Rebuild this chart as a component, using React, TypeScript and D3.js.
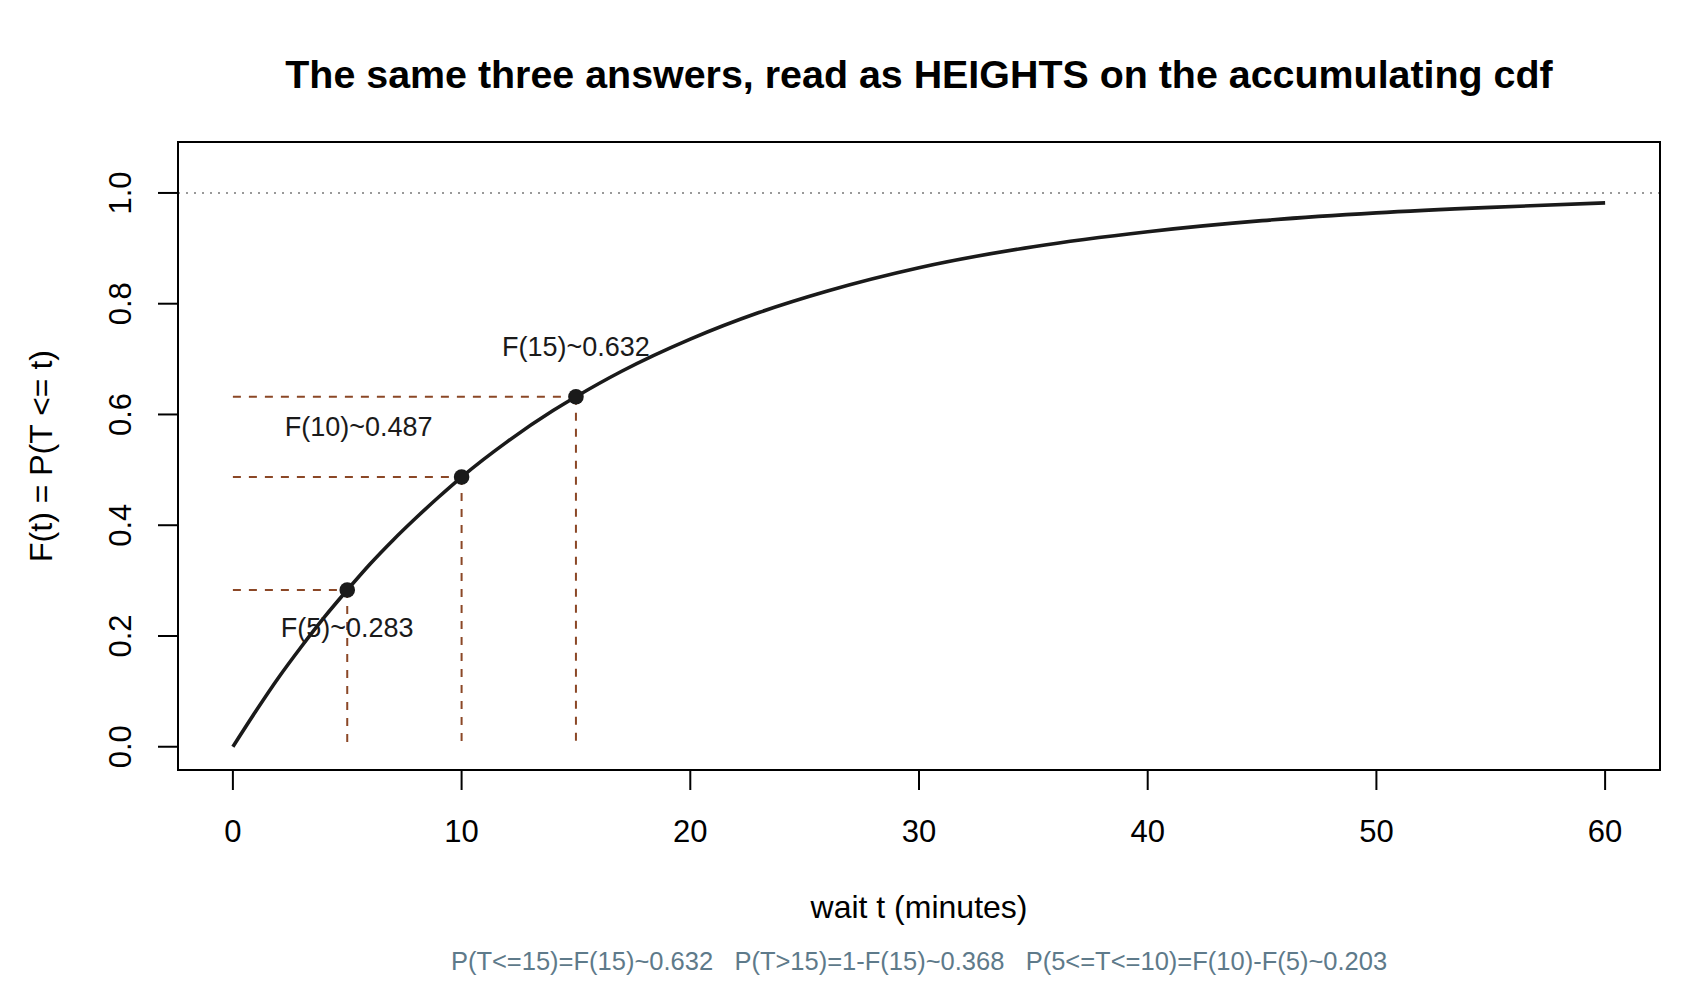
import React from "react";
import * as d3 from "d3";

// cdf of the wait
const waitT = [0, 1, 2, 3, 4, 5, 6, 7, 8, 9, 10, 12, 14, 15, 17, 20, 23, 26, 30, 35, 40, 45, 50, 55, 60];
const cdfF = [
  0, 0.064, 0.125, 0.181, 0.234, 0.283, 0.33, 0.373, 0.413, 0.451, 0.487, 0.551, 0.607, 0.632,
  0.678, 0.736, 0.784, 0.823, 0.865, 0.903, 0.93, 0.95, 0.964, 0.974, 0.982,
];

// the three marked answers
const markT = [5, 10, 15];
const markF = [0.283, 0.487, 0.632];
const markText = ["F(5)~0.283", "F(10)~0.487", "F(15)~0.632"];
// where each label sits (data units)
const labelT = [5, 5.5, 15];
const labelF = [0.216, 0.578, 0.722];

const xTicks = [0, 10, 20, 30, 40, 50, 60];
const yTicks = [0, 0.2, 0.4, 0.6, 0.8, 1.0];

const title = "The same three answers, read as HEIGHTS on the accumulating cdf";
const xTitle = "wait t (minutes)";
const yTitle = "F(t) = P(T <= t)";
const subTitle =
  "P(T<=15)=F(15)~0.632   P(T>15)=1-F(15)~0.368   P(5<=T<=10)=F(10)-F(5)~0.203";

const W = 1700;
const H = 1000;
const plot = { left: 178, right: 1660, top: 142, bottom: 770 };
const FONT = "'Liberation Sans', Arial, Helvetica, sans-serif";
const BROWN = "#8B4726";

export default function App() {
  const x = d3.scaleLinear().domain([-2.4, 62.4]).range([plot.left, plot.right]);
  const y = d3.scaleLinear().domain([-0.042, 1.092]).range([plot.bottom, plot.top]);

  const line = d3
    .line<number>()
    .x((_, i) => x(waitT[i]))
    .y((d) => y(d))
    .curve(d3.curveMonotoneX);

  const cx = (plot.left + plot.right) / 2;
  const cy = (plot.top + plot.bottom) / 2;

  return (
    <svg
      width={W}
      height={H}
      style={{ position: "absolute", left: 0, top: 0, display: "block", background: "#fff" }}
      fontFamily={FONT}
    >
      <rect x={0} y={0} width={W} height={H} fill="#fff" />

      {/* title */}
      <text x={cx} y={88} textAnchor="middle" fontSize={39.4} fontWeight="bold" fill="#000">
        {title}
      </text>

      {/* reference line at 1 */}
      <line
        x1={plot.left}
        x2={plot.right}
        y1={y(1)}
        y2={y(1)}
        stroke="#999"
        strokeWidth={2}
        strokeDasharray="2,6"
      />

      {/* guide lines */}
      {markT.map((t, i) => (
        <g key={"g" + i} stroke={BROWN} strokeWidth={2} strokeDasharray="8,8" fill="none">
          <line x1={x(0)} x2={x(t)} y1={y(markF[i])} y2={y(markF[i])} />
          <line x1={x(t)} x2={x(t)} y1={y(markF[i])} y2={y(0)} />
        </g>
      ))}

      {/* curve */}
      <path d={line(cdfF) || ""} fill="none" stroke="#1a1a1a" strokeWidth={3.6} strokeLinejoin="round" />

      {/* points */}
      {markT.map((t, i) => (
        <circle key={"p" + i} cx={x(t)} cy={y(markF[i])} r={7.8} fill="#1a1a1a" />
      ))}

      {/* labels */}
      {markText.map((s, i) => (
        <text
          key={"l" + i}
          x={x(labelT[i])}
          y={y(labelF[i]) + 9.5}
          textAnchor="middle"
          fontSize={27}
          fill="#1a1a1a"
        >
          {s}
        </text>
      ))}

      {/* frame */}
      <rect
        x={plot.left}
        y={plot.top}
        width={plot.right - plot.left}
        height={plot.bottom - plot.top}
        fill="none"
        stroke="#000"
        strokeWidth={2}
      />

      {/* x axis */}
      <line x1={x(0)} x2={x(60)} y1={plot.bottom} y2={plot.bottom} stroke="#000" strokeWidth={2} />
      {xTicks.map((t) => (
        <g key={"x" + t}>
          <line x1={x(t)} x2={x(t)} y1={plot.bottom} y2={plot.bottom + 20} stroke="#000" strokeWidth={2} />
          <text x={x(t)} y={842} textAnchor="middle" fontSize={31} fill="#000">
            {t}
          </text>
        </g>
      ))}

      {/* y axis */}
      {yTicks.map((v) => (
        <g key={"y" + v}>
          <line x1={plot.left - 20} x2={plot.left} y1={y(v)} y2={y(v)} stroke="#000" strokeWidth={2} />
          <text
            transform={`translate(${131}, ${y(v)}) rotate(-90)`}
            textAnchor="middle"
            fontSize={31}
            fill="#000"
          >
            {v.toFixed(1)}
          </text>
        </g>
      ))}

      {/* axis titles */}
      <text x={cx} y={918} textAnchor="middle" fontSize={32} fill="#000">
        {xTitle}
      </text>
      <text
        transform={`translate(${52}, ${cy}) rotate(-90)`}
        textAnchor="middle"
        fontSize={32}
        fill="#000"
      >
        {yTitle}
      </text>

      {/* sub line */}
      <text x={cx} y={970} textAnchor="middle" fontSize={25.5} fill="#5E7A8A" style={{ whiteSpace: "pre" }}>
        {subTitle}
      </text>
    </svg>
  );
}
